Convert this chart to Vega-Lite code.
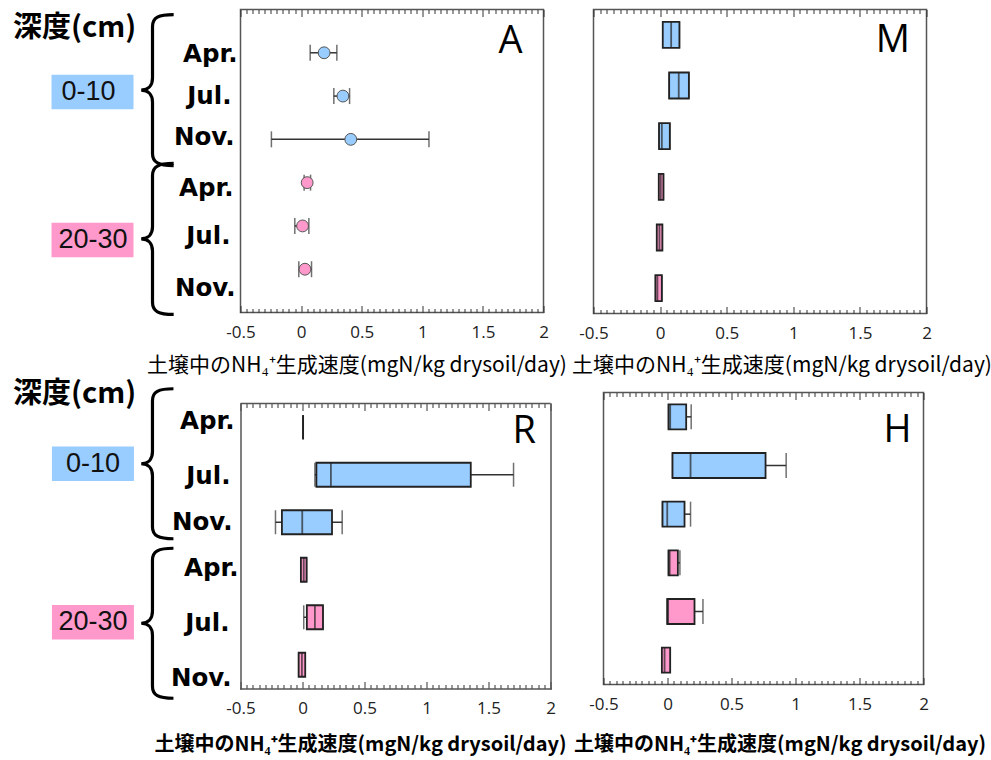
{
  "$schema": "https://vega.github.io/schema/vega-lite/v6.json",
  "background": "#ffffff",
  "padding": {"left": 11.5, "top": 6.5, "right": 0, "bottom": 0},
  "datasets": {
    "pointsA": [
      {"depth": "0-10", "month": "Apr.", "row": "0-10 Apr.", "mean": 0.19, "lo": 0.075, "hi": 0.295},
      {"depth": "0-10", "month": "Jul.", "row": "0-10 Jul.", "mean": 0.345, "lo": 0.27, "hi": 0.4},
      {"depth": "0-10", "month": "Nov.", "row": "0-10 Nov.", "mean": 0.41, "lo": -0.245, "hi": 1.055},
      {"depth": "20-30", "month": "Apr.", "row": "20-30 Apr.", "mean": 0.05, "lo": 0.025, "hi": 0.078},
      {"depth": "20-30", "month": "Jul.", "row": "20-30 Jul.", "mean": 0.012, "lo": -0.052, "hi": 0.064},
      {"depth": "20-30", "month": "Nov.", "row": "20-30 Nov.", "mean": 0.032, "lo": -0.019, "hi": 0.086}
    ],
    "boxM": [
      {"depth": "0-10", "month": "Apr.", "row": "0-10 Apr.", "min": 0.02, "q1": 0.02, "median": 0.083, "q3": 0.145, "max": 0.145},
      {"depth": "0-10", "month": "Jul.", "row": "0-10 Jul.", "min": 0.068, "q1": 0.068, "median": 0.14, "q3": 0.216, "max": 0.216},
      {"depth": "0-10", "month": "Nov.", "row": "0-10 Nov.", "min": -0.008, "q1": -0.008, "median": 0.013, "q3": 0.073, "max": 0.073},
      {"depth": "20-30", "month": "Apr.", "row": "20-30 Apr.", "min": -0.01, "q1": -0.01, "median": 0.005, "q3": 0.025, "max": 0.025},
      {"depth": "20-30", "month": "Jul.", "row": "20-30 Jul.", "min": -0.025, "q1": -0.025, "median": -0.005, "q3": 0.017, "max": 0.017},
      {"depth": "20-30", "month": "Nov.", "row": "20-30 Nov.", "min": -0.035, "q1": -0.035, "median": -0.02, "q3": 0.013, "max": 0.013}
    ],
    "boxR": [
      {"depth": "0-10", "month": "Apr.", "row": "0-10 Apr.", "min": 0.005, "q1": 0.005, "median": 0.005, "q3": 0.005, "max": 0.005},
      {"depth": "0-10", "month": "Jul.", "row": "0-10 Jul.", "min": 0.1, "q1": 0.112, "median": 0.229, "q3": 1.357, "max": 1.702},
      {"depth": "0-10", "month": "Nov.", "row": "0-10 Nov.", "min": -0.218, "q1": -0.166, "median": -0.002, "q3": 0.238, "max": 0.32},
      {"depth": "20-30", "month": "Apr.", "row": "20-30 Apr.", "min": -0.013, "q1": -0.013, "median": 0.01, "q3": 0.033, "max": 0.033},
      {"depth": "20-30", "month": "Jul.", "row": "20-30 Jul.", "min": 0.01, "q1": 0.035, "median": 0.1, "q3": 0.165, "max": 0.165},
      {"depth": "20-30", "month": "Nov.", "row": "20-30 Nov.", "min": -0.031, "q1": -0.031, "median": -0.005, "q3": 0.022, "max": 0.022}
    ],
    "boxH": [
      {"depth": "0-10", "month": "Apr.", "row": "0-10 Apr.", "min": 0.008, "q1": 0.008, "median": 0.021, "q3": 0.146, "max": 0.185},
      {"depth": "0-10", "month": "Jul.", "row": "0-10 Jul.", "min": 0.039, "q1": 0.039, "median": 0.18, "q3": 0.766, "max": 0.927},
      {"depth": "0-10", "month": "Nov.", "row": "0-10 Nov.", "min": -0.039, "q1": -0.039, "median": -0.002, "q3": 0.133, "max": 0.18},
      {"depth": "20-30", "month": "Apr.", "row": "20-30 Apr.", "min": 0.008, "q1": 0.008, "median": 0.017, "q3": 0.081, "max": 0.097},
      {"depth": "20-30", "month": "Jul.", "row": "20-30 Jul.", "min": -0.002, "q1": -0.002, "median": 0.005, "q3": 0.211, "max": 0.277},
      {"depth": "20-30", "month": "Nov.", "row": "20-30 Nov.", "min": -0.044, "q1": -0.044, "median": -0.023, "q3": 0.021, "max": 0.021}
    ]
  },
  "vconcat": [
    {
      "hconcat": [
        {
          "width": 303,
          "height": 303,
          "data": {"name": "pointsA"},
          "layer": [
            {
              "mark": {"type": "rule", "color": "#333333", "strokeWidth": 1.5},
              "encoding": {
                "x": {"field": "lo", "type": "quantitative", "scale": {"domain": [-0.5, 2], "nice": false, "zero": false},
                  "axis": {"orient": "bottom", "values": [-0.5,-0.45,-0.4,-0.35,-0.3,-0.25,-0.2,-0.15,-0.1,-0.05,0,0.05,0.1,0.15,0.2,0.25,0.3,0.35,0.4,0.45,0.5,0.55,0.6,0.65,0.7,0.75,0.8,0.85,0.9,0.95,1,1.05,1.1,1.15,1.2,1.25,1.3,1.35,1.4,1.45,1.5,1.55,1.6,1.65,1.7,1.75,1.8,1.85,1.9,1.95,2],
                    "labelExpr": "abs(datum.value*2-round(datum.value*2)) < 0.001 ? '' + datum.value : ''",
                    "tickSize": {"condition": {"test": "abs(datum.value*2-round(datum.value*2)) < 0.001", "value": -7}, "value": -4},
                    "tickColor": "#333333", "tickWidth": 1, "domain": false, "grid": false,
                    "labelFont": "Open Sans", "labelFontSize": 17, "labelColor": "#222222", "labelPadding": 19, "labelOverlap": false, "labelFlush": false,
                    "title": "土壌中のNH₄⁺生成速度(mgN/kg drysoil/day)", "titleFont": "Noto Sans CJK JP", "titleFontSize": 21, "titleFontWeight": "normal", "titleColor": "#000000",
                    "titleAlign": "center", "titleBaseline": "middle", "titleX": 116, "titleY": 53}},
                "x2": {"field": "hi"},
                "y": {"field": "row", "type": "nominal",
                  "scale": {"type": "point", "padding": 1, "domain": ["0-10 Apr.", "0-10 Jul.", "0-10 Nov.", "20-30 Apr.", "20-30 Jul.", "20-30 Nov."]},
                  "axis": null}
              }
            },
            {
              "mark": {"type": "tick", "color": "#333333", "thickness": 1.5, "size": 16},
              "encoding": {
                "x": {"field": "lo", "type": "quantitative",
                  "axis": {"orient": "top", "values": [-0.5,-0.45,-0.4,-0.35,-0.3,-0.25,-0.2,-0.15,-0.1,-0.05,0,0.05,0.1,0.15,0.2,0.25,0.3,0.35,0.4,0.45,0.5,0.55,0.6,0.65,0.7,0.75,0.8,0.85,0.9,0.95,1,1.05,1.1,1.15,1.2,1.25,1.3,1.35,1.4,1.45,1.5,1.55,1.6,1.65,1.7,1.75,1.8,1.85,1.9,1.95,2],
                    "labels": false, "tickSize": {"condition": {"test": "abs(datum.value*2-round(datum.value*2)) < 0.001", "value": -7}, "value": -4},
                    "tickColor": "#333333", "tickWidth": 1, "domain": false, "grid": false, "title": null}},
                "y": {"field": "row", "type": "nominal", "axis": null}
              }
            },
            {
              "mark": {"type": "tick", "color": "#333333", "thickness": 1.5, "size": 16},
              "encoding": {
                "x": {"field": "hi", "type": "quantitative", "axis": null},
                "y": {"field": "row", "type": "nominal", "axis": null}
              }
            },
            {
              "mark": {"type": "point", "shape": "circle", "filled": true, "size": 140, "stroke": "#555555", "strokeWidth": 1, "opacity": 1},
              "encoding": {
                "x": {"field": "mean", "type": "quantitative", "axis": null},
                "y": {"field": "row", "type": "nominal", "axis": null},
                "fill": {"field": "depth", "type": "nominal", "scale": {"domain": ["0-10", "20-30"], "range": ["#99ccff", "#ff99cc"]}, "legend": null}
              }
            },
            {
              "data": {"values": [{}]},
              "mark": {"type": "text", "text": "Apr.", "font": "DejaVu Sans", "fontSize": 24.5, "fontWeight": "bold", "align": "right", "baseline": "middle", "color": "#000000", "xOffset": -3, "yOffset": 2},
              "encoding": {"x": {"datum": -0.5, "type": "quantitative", "axis": null}, "y": {"datum": "0-10 Apr.", "type": "nominal", "axis": null}}
            },
            {
              "data": {"values": [{}]},
              "mark": {"type": "text", "text": "Jul.", "font": "DejaVu Sans", "fontSize": 24.5, "fontWeight": "bold", "align": "right", "baseline": "middle", "color": "#000000", "xOffset": -9, "yOffset": 1},
              "encoding": {"x": {"datum": -0.5, "type": "quantitative", "axis": null}, "y": {"datum": "0-10 Jul.", "type": "nominal", "axis": null}}
            },
            {
              "data": {"values": [{}]},
              "mark": {"type": "text", "text": "Nov.", "font": "DejaVu Sans", "fontSize": 24.5, "fontWeight": "bold", "align": "right", "baseline": "middle", "color": "#000000", "xOffset": -6, "yOffset": -1},
              "encoding": {"x": {"datum": -0.5, "type": "quantitative", "axis": null}, "y": {"datum": "0-10 Nov.", "type": "nominal", "axis": null}}
            },
            {
              "data": {"values": [{}]},
              "mark": {"type": "text", "text": "Apr.", "font": "DejaVu Sans", "fontSize": 24.5, "fontWeight": "bold", "align": "right", "baseline": "middle", "color": "#000000", "xOffset": -7, "yOffset": 6},
              "encoding": {"x": {"datum": -0.5, "type": "quantitative", "axis": null}, "y": {"datum": "20-30 Apr.", "type": "nominal", "axis": null}}
            },
            {
              "data": {"values": [{}]},
              "mark": {"type": "text", "text": "Jul.", "font": "DejaVu Sans", "fontSize": 24.5, "fontWeight": "bold", "align": "right", "baseline": "middle", "color": "#000000", "xOffset": -10, "yOffset": 11.5},
              "encoding": {"x": {"datum": -0.5, "type": "quantitative", "axis": null}, "y": {"datum": "20-30 Jul.", "type": "nominal", "axis": null}}
            },
            {
              "data": {"values": [{}]},
              "mark": {"type": "text", "text": "Nov.", "font": "DejaVu Sans", "fontSize": 24.5, "fontWeight": "bold", "align": "right", "baseline": "middle", "color": "#000000", "xOffset": -5, "yOffset": 19.5},
              "encoding": {"x": {"datum": -0.5, "type": "quantitative", "axis": null}, "y": {"datum": "20-30 Nov.", "type": "nominal", "axis": null}}
            },
            {
              "data": {"values": [{}]},
              "mark": {"type": "text", "text": "深度(cm)", "font": "Noto Sans CJK JP", "fontSize": 29, "fontWeight": "bold", "align": "left", "baseline": "middle", "color": "#000000", "yOffset": -25},
              "encoding": {"x": {"datum": -2.377, "type": "quantitative", "axis": null}, "y": {"datum": "0-10 Apr.", "type": "nominal", "axis": null}}
            },
            {
              "data": {"values": [{}]},
              "mark": {"type": "point", "shape": "M-1,-0.42H1V0.42H-1Z", "size": 6724, "filled": true, "color": "#99ccff", "opacity": 1, "strokeWidth": 0, "yOffset": -4},
              "encoding": {"x": {"datum": -1.721, "type": "quantitative", "axis": null}, "y": {"datum": "0-10 Jul.", "type": "nominal", "axis": null}}
            },
            {
              "data": {"values": [{}]},
              "mark": {"type": "text", "text": "0-10", "font": "Liberation Sans", "fontSize": 27, "align": "center", "baseline": "middle", "color": "#111111", "yOffset": -4},
              "encoding": {"x": {"datum": -1.754, "type": "quantitative", "axis": null}, "y": {"datum": "0-10 Jul.", "type": "nominal", "axis": null}}
            },
            {
              "data": {"values": [{}]},
              "mark": {"type": "point", "shape": "M0.28,-1C0.08,-1,0,-0.96,0,-0.84L0,-0.16C0,-0.06,-0.06,0,-0.15,0C-0.06,0,0,0.06,0,0.16L0,0.84C0,0.96,0.08,1,0.28,1", "size": 22801, "filled": false, "stroke": "#000000", "strokeWidth": 3.2, "opacity": 1, "yOffset": -6},
              "encoding": {"x": {"datum": -1.226, "type": "quantitative", "axis": null}, "y": {"datum": "0-10 Jul.", "type": "nominal", "axis": null}}
            },
            {
              "data": {"values": [{}]},
              "mark": {"type": "point", "shape": "M-1,-0.42H1V0.42H-1Z", "size": 6724, "filled": true, "color": "#ff99cc", "opacity": 1, "strokeWidth": 0, "yOffset": 14},
              "encoding": {"x": {"datum": -1.721, "type": "quantitative", "axis": null}, "y": {"datum": "20-30 Jul.", "type": "nominal", "axis": null}}
            },
            {
              "data": {"values": [{}]},
              "mark": {"type": "text", "text": "20-30", "font": "Liberation Sans", "fontSize": 27, "align": "center", "baseline": "middle", "color": "#111111", "yOffset": 14},
              "encoding": {"x": {"datum": -1.717, "type": "quantitative", "axis": null}, "y": {"datum": "20-30 Jul.", "type": "nominal", "axis": null}}
            },
            {
              "data": {"values": [{}]},
              "mark": {"type": "point", "shape": "M0.28,-1C0.08,-1,0,-0.96,0,-0.84L0,-0.16C0,-0.06,-0.06,0,-0.15,0C-0.06,0,0,0.06,0,0.16L0,0.84C0,0.96,0.08,1,0.28,1", "size": 22801, "filled": false, "stroke": "#000000", "strokeWidth": 3.2, "opacity": 1, "yOffset": 13},
              "encoding": {"x": {"datum": -1.226, "type": "quantitative", "axis": null}, "y": {"datum": "20-30 Jul.", "type": "nominal", "axis": null}}
            },
            {
              "data": {"values": [{}]},
              "mark": {"type": "text", "text": "A", "font": "Open Sans", "fontSize": 38, "align": "right", "baseline": "middle", "color": "#000000", "yOffset": -11},
              "encoding": {"x": {"datum": 1.826, "type": "quantitative", "axis": null}, "y": {"datum": "0-10 Apr.", "type": "nominal", "axis": null}}
            }
          ]
        },
        {
          "width": 333,
          "height": 304,
          "data": {"name": "boxM"},
          "layer": [
            {
              "mark": {"type": "rule", "color": "#333333", "strokeWidth": 1.5},
              "encoding": {
                "x": {"field": "min", "type": "quantitative", "scale": {"domain": [-0.5, 2], "nice": false, "zero": false},
                  "axis": {"orient": "bottom", "values": [-0.5,-0.45,-0.4,-0.35,-0.3,-0.25,-0.2,-0.15,-0.1,-0.05,0,0.05,0.1,0.15,0.2,0.25,0.3,0.35,0.4,0.45,0.5,0.55,0.6,0.65,0.7,0.75,0.8,0.85,0.9,0.95,1,1.05,1.1,1.15,1.2,1.25,1.3,1.35,1.4,1.45,1.5,1.55,1.6,1.65,1.7,1.75,1.8,1.85,1.9,1.95,2],
                    "labelExpr": "abs(datum.value*2-round(datum.value*2)) < 0.001 ? '' + datum.value : ''",
                    "tickSize": {"condition": {"test": "abs(datum.value*2-round(datum.value*2)) < 0.001", "value": -7}, "value": -4},
                    "tickColor": "#333333", "tickWidth": 1, "domain": false, "grid": false,
                    "labelFont": "Open Sans", "labelFontSize": 17, "labelColor": "#222222", "labelPadding": 19, "labelOverlap": false, "labelFlush": false,
                    "title": "土壌中のNH₄⁺生成速度(mgN/kg drysoil/day)", "titleFont": "Noto Sans CJK JP", "titleFontSize": 21, "titleFontWeight": "normal", "titleColor": "#000000",
                    "titleAlign": "center", "titleBaseline": "middle", "titleX": 188, "titleY": 52}},
                "x2": {"field": "max"},
                "y": {"field": "row", "type": "nominal",
                  "scale": {"type": "band", "paddingInner": 0, "paddingOuter": 0, "domain": ["0-10 Apr.", "0-10 Jul.", "0-10 Nov.", "20-30 Apr.", "20-30 Jul.", "20-30 Nov."]},
                  "axis": null}
              }
            },
            {
              "mark": {"type": "tick", "color": "#333333", "thickness": 1.5, "size": 26},
              "encoding": {
                "x": {"field": "min", "type": "quantitative",
                  "axis": {"orient": "top", "values": [-0.5,-0.45,-0.4,-0.35,-0.3,-0.25,-0.2,-0.15,-0.1,-0.05,0,0.05,0.1,0.15,0.2,0.25,0.3,0.35,0.4,0.45,0.5,0.55,0.6,0.65,0.7,0.75,0.8,0.85,0.9,0.95,1,1.05,1.1,1.15,1.2,1.25,1.3,1.35,1.4,1.45,1.5,1.55,1.6,1.65,1.7,1.75,1.8,1.85,1.9,1.95,2],
                    "labels": false, "tickSize": {"condition": {"test": "abs(datum.value*2-round(datum.value*2)) < 0.001", "value": -7}, "value": -4},
                    "tickColor": "#333333", "tickWidth": 1, "domain": false, "grid": false, "title": null}},
                "y": {"field": "row", "type": "nominal", "axis": null}
              }
            },
            {
              "mark": {"type": "tick", "color": "#333333", "thickness": 1.5, "size": 26},
              "encoding": {"x": {"field": "max", "type": "quantitative", "axis": null}, "y": {"field": "row", "type": "nominal", "axis": null}}
            },
            {
              "mark": {"type": "bar", "height": 26, "stroke": "#222222", "strokeWidth": 1.8},
              "encoding": {
                "x": {"field": "q1", "type": "quantitative", "axis": null},
                "x2": {"field": "q3"},
                "y": {"field": "row", "type": "nominal", "axis": null},
                "fill": {"field": "depth", "type": "nominal", "scale": {"domain": ["0-10", "20-30"], "range": ["#99ccff", "#ff99ff"]}, "legend": null}
              }
            },
            {
              "mark": {"type": "tick", "color": "#222222", "thickness": 1.8, "size": 26},
              "encoding": {"x": {"field": "median", "type": "quantitative", "axis": null}, "y": {"field": "row", "type": "nominal", "axis": null}}
            },
            {
              "data": {"values": [{}]},
              "mark": {"type": "text", "text": "M", "font": "Open Sans", "fontSize": 38, "align": "right", "baseline": "middle", "color": "#000000", "yOffset": 6},
              "encoding": {"x": {"datum": 1.876, "type": "quantitative", "axis": null}, "y": {"datum": "0-10 Apr.", "type": "nominal", "axis": null}}
            }
          ]
        }
      ],
      "spacing": 50,
      "bounds": "flush"
    },
    {
      "hconcat": [
        {
          "width": 310,
          "height": 296,
          "view": {"stroke": "transparent", "strokeWidth": 0},
          "data": {"name": "boxR"},
          "layer": [
            {
              "mark": {"type": "rule", "color": "#333333", "strokeWidth": 1.5},
              "encoding": {
                "x": {"field": "min", "type": "quantitative", "scale": {"domain": [-0.5, 2], "nice": false, "zero": false},
                  "axis": {"orient": "bottom", "values": [-0.5,-0.45,-0.4,-0.35,-0.3,-0.25,-0.2,-0.15,-0.1,-0.05,0,0.05,0.1,0.15,0.2,0.25,0.3,0.35,0.4,0.45,0.5,0.55,0.6,0.65,0.7,0.75,0.8,0.85,0.9,0.95,1,1.05,1.1,1.15,1.2,1.25,1.3,1.35,1.4,1.45,1.5,1.55,1.6,1.65,1.7,1.75,1.8,1.85,1.9,1.95,2],
                    "labelExpr": "abs(datum.value*2-round(datum.value*2)) < 0.001 ? '' + datum.value : ''",
                    "tickSize": {"condition": {"test": "abs(datum.value*2-round(datum.value*2)) < 0.001", "value": -7}, "value": -4},
                    "tickColor": "#333333", "tickWidth": 1, "domain": true, "domainColor": "#555555", "domainWidth": 1.5, "domainCap": "square", "grid": false,
                    "labelFont": "Open Sans", "labelFontSize": 17, "labelColor": "#222222", "labelPadding": 19, "labelOverlap": false, "labelFlush": false,
                    "title": "土壌中のNH₄⁺生成速度(mgN/kg drysoil/day)", "titleFont": "Noto Sans CJK JP", "titleFontSize": 20, "titleFontWeight": "bold", "titleColor": "#000000",
                    "titleAlign": "center", "titleBaseline": "middle", "titleX": 119.5, "titleY": 56}},
                "x2": {"field": "max"},
                "y": {"field": "row", "type": "nominal",
                  "scale": {"type": "band", "paddingInner": 0, "paddingOuter": 0, "range": [11, 296], "domain": ["0-10 Apr.", "0-10 Jul.", "0-10 Nov.", "20-30 Apr.", "20-30 Jul.", "20-30 Nov."]},
                  "axis": {"orient": "left", "labels": false, "ticks": false, "grid": false, "title": null, "domain": true, "domainColor": "#555555", "domainWidth": 1.5, "domainCap": "square"}}
              }
            },
            {
              "mark": {"type": "tick", "color": "#333333", "thickness": 1.5, "size": 24},
              "encoding": {
                "x": {"field": "min", "type": "quantitative",
                  "axis": {"orient": "top", "offset": -11, "values": [-0.5,-0.45,-0.4,-0.35,-0.3,-0.25,-0.2,-0.15,-0.1,-0.05,0,0.05,0.1,0.15,0.2,0.25,0.3,0.35,0.4,0.45,0.5,0.55,0.6,0.65,0.7,0.75,0.8,0.85,0.9,0.95,1,1.05,1.1,1.15,1.2,1.25,1.3,1.35,1.4,1.45,1.5,1.55,1.6,1.65,1.7,1.75,1.8,1.85,1.9,1.95,2],
                    "labels": false, "tickSize": {"condition": {"test": "abs(datum.value*2-round(datum.value*2)) < 0.001", "value": -7}, "value": -4},
                    "tickColor": "#333333", "tickWidth": 1, "domain": false, "grid": false, "title": null}},
                "y": {"field": "row", "type": "nominal",
                  "axis": {"orient": "right", "labels": false, "ticks": false, "grid": false, "title": null, "domain": true, "domainColor": "#555555", "domainWidth": 1.5, "domainCap": "square"}}
              }
            },
            {
              "data": {"values": [{}]},
              "mark": {"type": "rule", "color": "#555555", "strokeWidth": 1.5, "yOffset": -23.75},
              "encoding": {"x": {"datum": -0.5, "type": "quantitative", "axis": null}, "x2": {"datum": 2}, "y": {"datum": "0-10 Apr.", "type": "nominal", "axis": null}}
            },
            {
              "mark": {"type": "tick", "color": "#333333", "thickness": 1.5, "size": 24},
              "encoding": {"x": {"field": "max", "type": "quantitative", "axis": null}, "y": {"field": "row", "type": "nominal", "axis": null}}
            },
            {
              "mark": {"type": "bar", "height": 24, "stroke": "#222222", "strokeWidth": 1.8},
              "encoding": {
                "x": {"field": "q1", "type": "quantitative", "axis": null},
                "x2": {"field": "q3"},
                "y": {"field": "row", "type": "nominal", "axis": null},
                "fill": {"field": "depth", "type": "nominal", "scale": {"domain": ["0-10", "20-30"], "range": ["#99ccff", "#ff99ff"]}, "legend": null}
              }
            },
            {
              "mark": {"type": "tick", "color": "#222222", "thickness": 1.8, "size": 24},
              "encoding": {"x": {"field": "median", "type": "quantitative", "axis": null}, "y": {"field": "row", "type": "nominal", "axis": null}}
            },
            {
              "data": {"values": [{}]},
              "mark": {"type": "text", "text": "Apr.", "font": "DejaVu Sans", "fontSize": 24.5, "fontWeight": "bold", "align": "right", "baseline": "middle", "color": "#000000", "xOffset": -6, "yOffset": -5},
              "encoding": {"x": {"datum": -0.5, "type": "quantitative", "axis": null}, "y": {"datum": "0-10 Apr.", "type": "nominal", "axis": null}}
            },
            {
              "data": {"values": [{}]},
              "mark": {"type": "text", "text": "Jul.", "font": "DejaVu Sans", "fontSize": 24.5, "fontWeight": "bold", "align": "right", "baseline": "middle", "color": "#000000", "xOffset": -10, "yOffset": 2},
              "encoding": {"x": {"datum": -0.5, "type": "quantitative", "axis": null}, "y": {"datum": "0-10 Jul.", "type": "nominal", "axis": null}}
            },
            {
              "data": {"values": [{}]},
              "mark": {"type": "text", "text": "Nov.", "font": "DejaVu Sans", "fontSize": 24.5, "fontWeight": "bold", "align": "right", "baseline": "middle", "color": "#000000", "xOffset": -8, "yOffset": 1},
              "encoding": {"x": {"datum": -0.5, "type": "quantitative", "axis": null}, "y": {"datum": "0-10 Nov.", "type": "nominal", "axis": null}}
            },
            {
              "data": {"values": [{}]},
              "mark": {"type": "text", "text": "Apr.", "font": "DejaVu Sans", "fontSize": 24.5, "fontWeight": "bold", "align": "right", "baseline": "middle", "color": "#000000", "xOffset": -2, "yOffset": -1},
              "encoding": {"x": {"datum": -0.5, "type": "quantitative", "axis": null}, "y": {"datum": "20-30 Apr.", "type": "nominal", "axis": null}}
            },
            {
              "data": {"values": [{}]},
              "mark": {"type": "text", "text": "Jul.", "font": "DejaVu Sans", "fontSize": 24.5, "fontWeight": "bold", "align": "right", "baseline": "middle", "color": "#000000", "xOffset": -11, "yOffset": 7},
              "encoding": {"x": {"datum": -0.5, "type": "quantitative", "axis": null}, "y": {"datum": "20-30 Jul.", "type": "nominal", "axis": null}}
            },
            {
              "data": {"values": [{}]},
              "mark": {"type": "text", "text": "Nov.", "font": "DejaVu Sans", "fontSize": 24.5, "fontWeight": "bold", "align": "right", "baseline": "middle", "color": "#000000", "xOffset": -9, "yOffset": 14},
              "encoding": {"x": {"datum": -0.5, "type": "quantitative", "axis": null}, "y": {"datum": "20-30 Nov.", "type": "nominal", "axis": null}}
            },
            {
              "data": {"values": [{}]},
              "mark": {"type": "text", "text": "深度(cm)", "font": "Noto Sans CJK JP", "fontSize": 29, "fontWeight": "bold", "align": "left", "baseline": "middle", "color": "#000000", "yOffset": -33},
              "encoding": {"x": {"datum": -2.335, "type": "quantitative", "axis": null}, "y": {"datum": "0-10 Apr.", "type": "nominal", "axis": null}}
            },
            {
              "data": {"values": [{}]},
              "mark": {"type": "point", "shape": "M-1,-0.42H1V0.42H-1Z", "size": 6724, "filled": true, "color": "#99ccff", "opacity": 1, "strokeWidth": 0, "yOffset": -11},
              "encoding": {"x": {"datum": -1.69, "type": "quantitative", "axis": null}, "y": {"datum": "0-10 Jul.", "type": "nominal", "axis": null}}
            },
            {
              "data": {"values": [{}]},
              "mark": {"type": "text", "text": "0-10", "font": "Liberation Sans", "fontSize": 27, "align": "center", "baseline": "middle", "color": "#111111", "yOffset": -11},
              "encoding": {"x": {"datum": -1.69, "type": "quantitative", "axis": null}, "y": {"datum": "0-10 Jul.", "type": "nominal", "axis": null}}
            },
            {
              "data": {"values": [{}]},
              "mark": {"type": "point", "shape": "M0.28,-1C0.08,-1,0,-0.96,0,-0.84L0,-0.16C0,-0.06,-0.06,0,-0.15,0C-0.06,0,0,0.06,0,0.16L0,0.84C0,0.96,0.08,1,0.28,1", "size": 22500, "filled": false, "stroke": "#000000", "strokeWidth": 3.2, "opacity": 1, "yOffset": -11},
              "encoding": {"x": {"datum": -1.21, "type": "quantitative", "axis": null}, "y": {"datum": "0-10 Jul.", "type": "nominal", "axis": null}}
            },
            {
              "data": {"values": [{}]},
              "mark": {"type": "point", "shape": "M-1,-0.42H1V0.42H-1Z", "size": 6724, "filled": true, "color": "#ff99cc", "opacity": 1, "strokeWidth": 0, "yOffset": 5},
              "encoding": {"x": {"datum": -1.69, "type": "quantitative", "axis": null}, "y": {"datum": "20-30 Jul.", "type": "nominal", "axis": null}}
            },
            {
              "data": {"values": [{}]},
              "mark": {"type": "text", "text": "20-30", "font": "Liberation Sans", "fontSize": 27, "align": "center", "baseline": "middle", "color": "#111111", "yOffset": 5},
              "encoding": {"x": {"datum": -1.69, "type": "quantitative", "axis": null}, "y": {"datum": "20-30 Jul.", "type": "nominal", "axis": null}}
            },
            {
              "data": {"values": [{}]},
              "mark": {"type": "point", "shape": "M0.28,-1C0.08,-1,0,-0.96,0,-0.84L0,-0.16C0,-0.06,-0.06,0,-0.15,0C-0.06,0,0,0.06,0,0.16L0,0.84C0,0.96,0.08,1,0.28,1", "size": 22500, "filled": false, "stroke": "#000000", "strokeWidth": 3.2, "opacity": 1, "yOffset": 6},
              "encoding": {"x": {"datum": -1.21, "type": "quantitative", "axis": null}, "y": {"datum": "20-30 Jul.", "type": "nominal", "axis": null}}
            },
            {
              "data": {"values": [{}]},
              "mark": {"type": "text", "text": "R", "font": "Open Sans", "fontSize": 38, "align": "right", "baseline": "middle", "color": "#000000", "yOffset": 5},
              "encoding": {"x": {"datum": 1.883, "type": "quantitative", "axis": null}, "y": {"datum": "0-10 Apr.", "type": "nominal", "axis": null}}
            }
          ]
        },
        {
          "width": 320,
          "height": 292,
          "data": {"name": "boxH"},
          "layer": [
            {
              "mark": {"type": "rule", "color": "#333333", "strokeWidth": 1.5},
              "encoding": {
                "x": {"field": "min", "type": "quantitative", "scale": {"domain": [-0.5, 2], "nice": false, "zero": false},
                  "axis": {"orient": "bottom", "values": [-0.5,-0.45,-0.4,-0.35,-0.3,-0.25,-0.2,-0.15,-0.1,-0.05,0,0.05,0.1,0.15,0.2,0.25,0.3,0.35,0.4,0.45,0.5,0.55,0.6,0.65,0.7,0.75,0.8,0.85,0.9,0.95,1,1.05,1.1,1.15,1.2,1.25,1.3,1.35,1.4,1.45,1.5,1.55,1.6,1.65,1.7,1.75,1.8,1.85,1.9,1.95,2],
                    "labelExpr": "abs(datum.value*2-round(datum.value*2)) < 0.001 ? '' + datum.value : ''",
                    "tickSize": {"condition": {"test": "abs(datum.value*2-round(datum.value*2)) < 0.001", "value": -7}, "value": -4},
                    "tickColor": "#333333", "tickWidth": 1, "domain": false, "grid": false,
                    "labelFont": "Open Sans", "labelFontSize": 17, "labelColor": "#222222", "labelPadding": 19, "labelOverlap": false, "labelFlush": false,
                    "title": "土壌中のNH₄⁺生成速度(mgN/kg drysoil/day)", "titleFont": "Noto Sans CJK JP", "titleFontSize": 20, "titleFontWeight": "bold", "titleColor": "#000000",
                    "titleAlign": "center", "titleBaseline": "middle", "titleX": 176, "titleY": 60}},
                "x2": {"field": "max"},
                "y": {"field": "row", "type": "nominal",
                  "scale": {"type": "band", "paddingInner": 0, "paddingOuter": 0, "domain": ["0-10 Apr.", "0-10 Jul.", "0-10 Nov.", "20-30 Apr.", "20-30 Jul.", "20-30 Nov."]},
                  "axis": null}
              }
            },
            {
              "mark": {"type": "tick", "color": "#333333", "thickness": 1.5, "size": 25},
              "encoding": {
                "x": {"field": "min", "type": "quantitative",
                  "axis": {"orient": "top", "values": [-0.5,-0.45,-0.4,-0.35,-0.3,-0.25,-0.2,-0.15,-0.1,-0.05,0,0.05,0.1,0.15,0.2,0.25,0.3,0.35,0.4,0.45,0.5,0.55,0.6,0.65,0.7,0.75,0.8,0.85,0.9,0.95,1,1.05,1.1,1.15,1.2,1.25,1.3,1.35,1.4,1.45,1.5,1.55,1.6,1.65,1.7,1.75,1.8,1.85,1.9,1.95,2],
                    "labels": false, "tickSize": {"condition": {"test": "abs(datum.value*2-round(datum.value*2)) < 0.001", "value": -7}, "value": -4},
                    "tickColor": "#333333", "tickWidth": 1, "domain": false, "grid": false, "title": null}},
                "y": {"field": "row", "type": "nominal", "axis": null}
              }
            },
            {
              "mark": {"type": "tick", "color": "#333333", "thickness": 1.5, "size": 25},
              "encoding": {"x": {"field": "max", "type": "quantitative", "axis": null}, "y": {"field": "row", "type": "nominal", "axis": null}}
            },
            {
              "mark": {"type": "bar", "height": 25, "stroke": "#222222", "strokeWidth": 1.8},
              "encoding": {
                "x": {"field": "q1", "type": "quantitative", "axis": null},
                "x2": {"field": "q3"},
                "y": {"field": "row", "type": "nominal", "axis": null},
                "fill": {"field": "depth", "type": "nominal", "scale": {"domain": ["0-10", "20-30"], "range": ["#99ccff", "#ff99ff"]}, "legend": null}
              }
            },
            {
              "mark": {"type": "tick", "color": "#222222", "thickness": 1.8, "size": 25},
              "encoding": {"x": {"field": "median", "type": "quantitative", "axis": null}, "y": {"field": "row", "type": "nominal", "axis": null}}
            },
            {
              "data": {"values": [{}]},
              "mark": {"type": "text", "text": "H", "font": "Open Sans", "fontSize": 38, "align": "right", "baseline": "middle", "color": "#000000", "yOffset": 14},
              "encoding": {"x": {"datum": 1.906, "type": "quantitative", "axis": null}, "y": {"datum": "0-10 Apr.", "type": "nominal", "axis": null}}
            }
          ]
        }
      ],
      "spacing": 53,
      "bounds": "flush"
    }
  ],
  "spacing": 3,
  "config": {
    "view": {"stroke": "#555555", "strokeWidth": 1.5}
  }
}
